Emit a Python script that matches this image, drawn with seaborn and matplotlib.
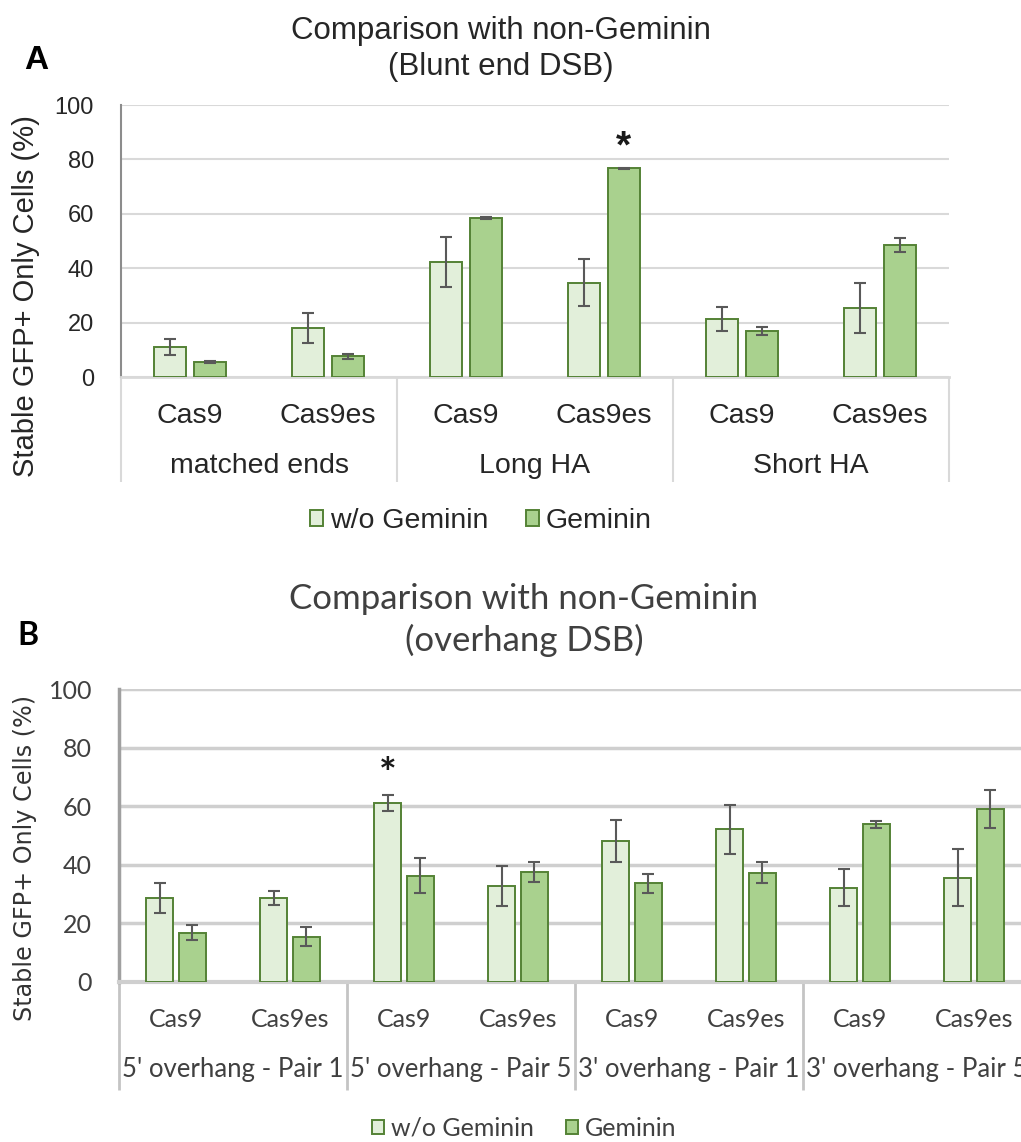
import matplotlib
matplotlib.use("Agg")
import matplotlib.pyplot as plt
import matplotlib.transforms as mtransforms
from matplotlib.patches import Patch
import pandas as pd
import seaborn as sns

# ---------------- data ----------------
conditions = ["w/o Geminin", "Geminin"]
enzymes = ["Cas9", "Cas9es"]

# Panel A: blunt end DSB
A_groups = ["matched ends", "Long HA", "Short HA"]
A_wo = [11.0, 18.0, 42.2, 34.7, 21.3, 25.4]
A_wo_err = [3.0, 5.5, 9.1, 8.7, 4.4, 9.2]
A_gem = [5.5, 7.6, 58.5, 76.7, 16.9, 48.5]
A_gem_err = [0.4, 1.0, 0.4, 0.3, 1.3, 2.6]
A_star = ("Geminin", 3)

# Panel B: overhang DSB
B_groups = ["5' overhang - Pair 1", "5' overhang - Pair 5",
            "3' overhang - Pair 1", "3' overhang - Pair 5"]
B_wo = [28.7, 28.7, 61.2, 32.7, 48.1, 52.1, 32.2, 35.6]
B_wo_err = [5.1, 2.3, 2.8, 6.7, 7.2, 8.3, 6.4, 9.7]
B_gem = [16.8, 15.4, 36.2, 37.6, 33.6, 37.3, 53.8, 59.0]
B_gem_err = [2.7, 3.3, 6.0, 3.5, 3.3, 3.5, 1.3, 6.4]
B_star = ("w/o Geminin", 2)

y_ticks = [0, 20, 40, 60, 80, 100]
y_label = "Stable GFP+ Only Cells (%)"

# ---------------- style ----------------
sns.set_theme(style="white")
plt.rcParams["font.family"] = ["Liberation Sans", "DejaVu Sans"]

FILL = {"w/o Geminin": "#E2EFDA", "Geminin": "#A9D18E"}
EDGE = "#548235"
ERR = "#595959"

W, H = 1021, 1142


def long_table(groups, wo, wo_err, gem, gem_err):
    rows = []
    for cond, vals, errs in [("w/o Geminin", wo, wo_err), ("Geminin", gem, gem_err)]:
        for i, (v, e) in enumerate(zip(vals, errs)):
            g = groups[i // 2]
            enz = enzymes[i % 2]
            rows.append(dict(slot=f"{g}|{enz}", group=g, enzyme=enz,
                             condition=cond, value=v, err=e))
    return pd.DataFrame(rows)


def draw_panel(ax, df, groups, star, st):
    order = list(dict.fromkeys(df["slot"]))
    sns.barplot(data=df, x="slot", y="value", hue="condition", order=order,
                hue_order=conditions, palette=FILL, saturation=1, edgecolor=EDGE,
                linewidth=st["bar_lw"], width=0.57, gap=0.18, errorbar=None,
                legend=False, ax=ax, zorder=3)
    ax.set_ylim(0, 100)
    ax.set_xlim(-0.5, len(order) - 0.5)

    # error bars at the centres of the drawn bars
    for cont, cond in zip(ax.containers, conditions):
        sub = df[df["condition"] == cond].set_index("slot").loc[order]
        xs = [p.get_x() + p.get_width() / 2 for p in cont.patches]
        ax.errorbar(xs, sub["value"].values, yerr=sub["err"].values, fmt="none",
                    ecolor=ERR, elinewidth=1.5, capsize=4.3, capthick=1.5,
                    zorder=4)
        if cond == star[0]:
            i = star[1]
            ax.text(xs[i], sub["value"].values[i] + sub["err"].values[i] + st["star_off"],
                    "*", ha="center", va="center", fontsize=st["star_fs"],
                    fontweight="bold", color="#1a1a1a", family=st["family"])

    # axes styling
    ax.set_xlabel("")
    ax.set_ylabel("")
    ax.set_yticks(y_ticks)
    ax.set_xticks(range(len(order)))
    ax.set_xticklabels([])
    ax.tick_params(axis="x", length=0)
    ax.tick_params(axis="y", length=0, pad=st["ytick_pad"],
                   labelsize=st["ytick_fs"], labelcolor=st["tick_color"])
    for lab in ax.get_yticklabels():
        lab.set_family(st["family"])
    ax.yaxis.grid(True, color=st["grid_color"], lw=st["grid_lw"])
    ax.set_axisbelow(True)
    for s in ["top", "right"]:
        ax.spines[s].set_visible(False)
    ax.spines["left"].set_color(st["left_color"])
    ax.spines["left"].set_linewidth(st["left_lw"])
    ax.spines["bottom"].set_color(st["grid_color"])
    ax.spines["bottom"].set_linewidth(st["grid_lw"] + 0.5)

    # two-level category axis
    tr = mtransforms.blended_transform_factory(ax.transData, ax.transAxes)
    for i, slot in enumerate(order):
        ax.text(i, st["tick_y"], slot.split("|")[1], transform=tr, ha="center",
                va="baseline", fontsize=st["xtick_fs"], color=st["tick_color"],
                family=st["family"])
    for g, name in enumerate(groups):
        ax.text(2 * g + 0.5, st["group_y"], name, transform=tr, ha="center",
                va="baseline", fontsize=st["group_fs"], color=st["tick_color"],
                family=st["family"])
    for xsep in [-0.5 + 2 * k for k in range(len(groups) + 1)]:
        ax.plot([xsep, xsep], [0, st["sep_y"]], transform=tr, color=st["sep_color"],
                lw=st["sep_lw"], clip_on=False, solid_capstyle="butt")


fig = plt.figure(figsize=(W / 100, H / 100), dpi=100)

# ---------------- Panel A ----------------
axA = fig.add_axes([121 / W, 1 - 377 / H, 828 / W, 272 / H])
stA = dict(family=["Liberation Sans", "DejaVu Sans"], bar_lw=1.4, star_fs=28,
           star_off=7.5,
           ytick_pad=19.4, ytick_fs=17, xtick_fs=20.5, group_fs=20.5,
           tick_color="#262626", grid_color="#D9D9D9", grid_lw=1.5,
           left_color="#8C8C8C", left_lw=1.5, tick_y=-(423 - 377) / 272,
           group_y=-(473 - 377) / 272, sep_y=-(482 - 377) / 272,
           sep_color="#D9D9D9", sep_lw=1.5)
dfA = long_table(A_groups, A_wo, A_wo_err, A_gem, A_gem_err)
draw_panel(axA, dfA, A_groups, A_star, stA)

fig.text(501 / W, 1 - 39 / H, "Comparison with non-Geminin", ha="center",
         va="baseline", fontsize=22.5, color="#262626", family=stA["family"])
fig.text(501 / W, 1 - 75 / H, "(Blunt end DSB)", ha="center", va="baseline",
         fontsize=22.5, color="#262626", family=stA["family"])
fig.text(24 / W, 1 - 69 / H, "A", ha="left", va="baseline", fontsize=24,
         fontweight="bold", color="black", family=stA["family"])
fig.text(26 / W, 1 - 296 / H, y_label, rotation=90, ha="center", va="center",
         fontsize=21, color="#262626", family=stA["family"])

handlesA = [Patch(facecolor=FILL[c], edgecolor=EDGE, lw=1.4, label=c) for c in conditions]
fig.legend(handles=handlesA, loc="center", bbox_to_anchor=(481 / W, 1 - 521 / H),
           ncol=2, frameon=False, handlelength=0.45, handleheight=0.45,
           handletextpad=0.25, columnspacing=1.3,
           prop=dict(family="Liberation Sans", size=20.5), labelcolor="#262626")

# ---------------- Panel B ----------------
axB = fig.add_axes([119 / W, 1 - 981.7 / H, 912 / W, 292.4 / H])
stB = dict(family=["Lato", "DejaVu Sans"], bar_lw=1.4, star_fs=30,
           star_off=6.5,
           ytick_pad=19.4, ytick_fs=18, xtick_fs=18, group_fs=18.5,
           tick_color="#404040", grid_color="#CFCFCF", grid_lw=2.5,
           left_color="#A0A0A0", left_lw=2.5, tick_y=-(1026.7 - 981.7) / 292.4,
           group_y=-(1077 - 981.7) / 292.4, sep_y=-(1090 - 981.7) / 292.4,
           sep_color="#C4C4C4", sep_lw=2.0)
dfB = long_table(B_groups, B_wo, B_wo_err, B_gem, B_gem_err)
draw_panel(axB, dfB, B_groups, B_star, stB)

fig.text(524 / W, 1 - 609 / H, "Comparison with non-Geminin", ha="center",
         va="baseline", fontsize=25, color="#404040", family=stB["family"])
fig.text(524 / W, 1 - 651 / H, "(overhang DSB)", ha="center", va="baseline",
         fontsize=25, color="#404040", family=stB["family"])
fig.text(17 / W, 1 - 645 / H, "B", ha="left", va="baseline", fontsize=23,
         fontweight="bold", color="black", family=stB["family"])
fig.text(25 / W, 1 - 858 / H, y_label, rotation=90, ha="center", va="center",
         fontsize=17.2, color="#333333", family=["DejaVu Sans"])

handlesB = [Patch(facecolor=FILL[c], edgecolor=EDGE, lw=1.4, label=c) for c in conditions]
fig.legend(handles=handlesB, loc="center", bbox_to_anchor=(524 / W, 1 - 1128 / H),
           ncol=2, frameon=False, handlelength=0.5, handleheight=0.5,
           handletextpad=0.25, columnspacing=1.3,
           prop=dict(family="Lato", size=18), labelcolor="#404040")

fig.savefig("out.png", dpi=100)
